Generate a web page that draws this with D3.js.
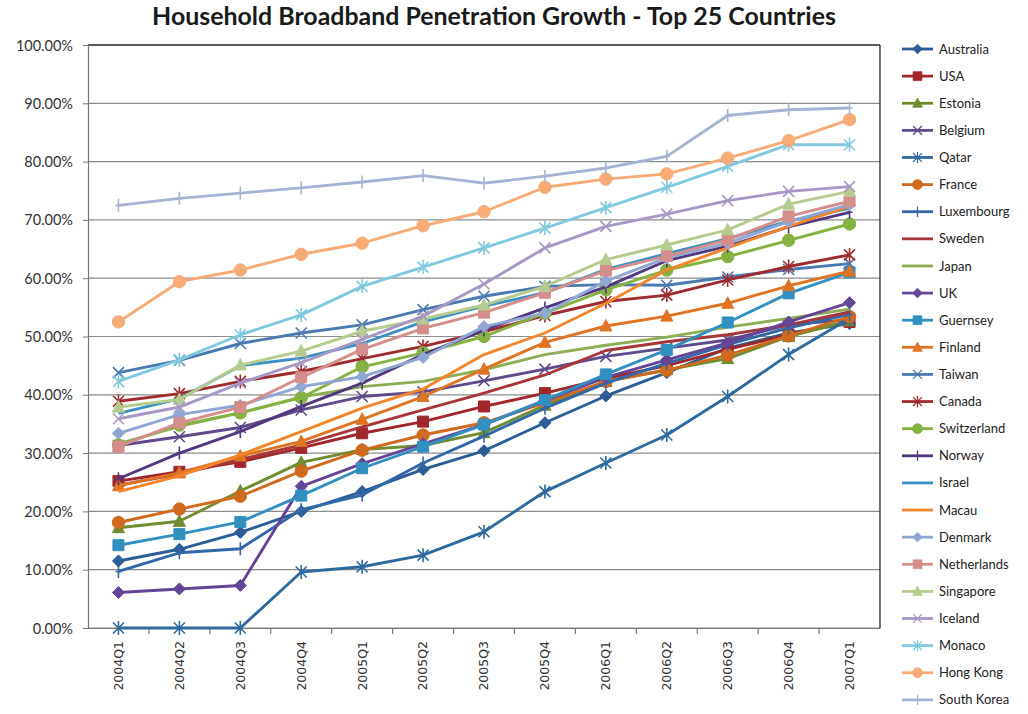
<!DOCTYPE html>
<html><head><meta charset="utf-8">
<script src="https://cdn.jsdelivr.net/npm/d3@7"></script>
<style>html,body{margin:0;padding:0;background:#fff;}svg{display:block;}</style>
</head><body><svg id="c" width="1028" height="714"></svg>
<script>
// ---- DATA ----
const quarters = ["2004Q1","2004Q2","2004Q3","2004Q4","2005Q1","2005Q2","2005Q3","2005Q4","2006Q1","2006Q2","2006Q3","2006Q4","2007Q1"];
const yTicks = [0,10,20,30,40,50,60,70,80,90,100];
const countries = ["Australia","USA","Estonia","Belgium","Qatar","France","Luxembourg","Sweden","Japan","UK","Guernsey","Finland","Taiwan","Canada","Switzerland","Norway","Israel","Macau","Denmark","Netherlands","Singapore","Iceland","Monaco","Hong Kong","South Korea"];
const australia   = [11.5,13.5,16.4,20.0,23.4,27.2,30.4,35.2,39.8,43.8,48.0,50.6,52.2];
const usa         = [25.2,26.8,28.5,30.9,33.4,35.4,38.0,40.3,42.8,45.0,47.8,50.3,52.5];
const estonia     = [17.2,18.3,23.5,28.4,30.6,31.3,33.5,38.2,42.3,44.3,46.2,50.0,52.7];
const belgium     = [31.3,32.8,34.4,37.4,39.7,40.5,42.4,44.4,46.6,48.0,49.4,52.0,52.9];
const qatar       = [0,0,0,9.6,10.5,12.5,16.5,23.4,28.3,33.1,39.7,46.9,53.1];
const france      = [18.1,20.4,22.6,26.9,30.5,33.1,35.2,38.6,42.3,44.2,46.8,50.1,53.4];
const luxembourg  = [9.7,12.9,13.6,20.3,22.8,28.3,32.9,37.7,42.0,45.4,48.6,51.5,53.8];
const sweden      = [24.5,26.4,28.9,31.4,34.5,37.4,40.3,43.4,47.6,49.1,50.3,52.0,54.2];
const japan       = [31.6,34.6,36.9,39.6,41.4,42.3,44.3,46.9,48.5,49.9,51.6,53.1,54.7];
const uk          = [6.1,6.7,7.3,24.3,28.2,31.6,34.9,39.0,43.0,46.0,48.9,52.5,55.8];
const guernsey    = [14.2,16.1,18.2,22.7,27.4,31.1,34.9,39.1,43.5,47.7,52.4,57.4,61.0];
const finland     = [24.4,26.6,29.5,32.0,35.8,39.7,44.4,49.0,51.8,53.5,55.7,58.7,61.2];
const taiwan      = [43.8,45.9,48.8,50.6,52.0,54.6,56.9,58.6,58.9,58.8,60.2,61.5,62.5];
const canada      = [38.9,40.2,42.3,44.0,46.2,48.3,50.8,53.6,56.0,57.1,59.7,62.0,64.0];
const switzerland = [31.4,34.8,36.9,39.5,44.8,47.2,50.0,54.0,58.0,61.4,63.7,66.5,69.3];
const norway      = [25.6,30.0,33.7,38.0,42.0,46.9,51.1,54.9,58.5,63.0,65.5,68.8,71.3];
const israel      = [36.8,39.3,45.0,46.3,48.8,52.5,55.2,57.5,61.5,64.2,66.8,69.8,72.0];
const macau       = [23.4,26.1,29.7,33.7,37.7,41.0,46.9,50.6,55.7,61.4,65.2,68.9,72.3];
const denmark     = [33.4,36.6,38.2,41.4,43.1,46.4,51.7,54.0,59.5,63.5,66.0,69.7,72.6];
const netherlands = [31.1,35.2,37.9,43.0,47.8,51.4,54.1,57.5,61.3,63.8,66.6,70.6,73.2];
const singapore   = [37.9,39.2,45.1,47.5,50.9,53.0,55.4,58.6,63.2,65.7,68.3,72.7,74.9];
const iceland     = [35.9,37.9,42.0,45.5,49.5,53.5,59.0,65.2,68.9,71.0,73.3,74.9,75.7];
const monaco      = [42.3,46.0,50.3,53.7,58.6,61.9,65.2,68.6,72.1,75.6,79.2,82.9,82.9];
const hongKong    = [52.5,59.4,61.4,64.1,66.0,69.0,71.4,75.6,77.0,77.9,80.6,83.6,87.2];
const southKorea  = [72.5,73.7,74.6,75.5,76.5,77.6,76.3,77.5,78.9,80.9,87.9,88.9,89.2];
const seriesValues = [australia,usa,estonia,belgium,qatar,france,luxembourg,sweden,japan,uk,guernsey,finland,taiwan,canada,switzerland,norway,israel,macau,denmark,netherlands,singapore,iceland,monaco,hongKong,southKorea];

// ---- STYLE ----
const colors = ["#2C5D96","#A0282C","#6F8D2F","#5F4A8B","#2F6A9E","#CF6A1E","#3368A8","#A6363A","#8DAE55","#644596","#3290C0","#DE7424","#4A7AB0","#9E2B30","#86B241","#52397F","#3C90C4","#F3862B","#91A7D3","#D48E8C","#B5CC8E","#A898C6","#82C8DF","#F7AB77","#A6B4D4"];
const markerCycle = ["diamond","square","triangle","x","star","circle","plus","none","none"];

const svg = d3.select("#c");
const M = {left:88, right:880, top:45, bottom:628};
const x = d3.scaleBand().domain(quarters).range([M.left, M.right]);
const y = d3.scaleLinear().domain([0,100]).range([M.bottom, M.top]);
const cx = q => x(q) + x.bandwidth()/2;

// title
const title = svg.append("text").attr("x", 494).attr("y", 25).attr("text-anchor","middle")
  .attr("font-family","Lato, 'Open Sans', sans-serif").attr("font-weight","bold").attr("font-size",22)
  .attr("fill","#1a1a1a").text("Household Broadband Penetration Growth - Top 25 Countries");
{ const w = title.node().getComputedTextLength(); title.attr("font-size", 22*684/w); }

// gridlines
svg.append("g").selectAll("line").data(yTicks.filter(d=>d<100)).join("line")
  .attr("x1",M.left).attr("x2",M.right).attr("y1",d=>y(d)).attr("y2",d=>y(d))
  .attr("stroke","#8c8c8c").attr("stroke-width",1.2);
// plot border top/right
svg.append("line").attr("x1",M.left).attr("x2",M.right).attr("y1",y(100)).attr("y2",y(100)).attr("stroke","#222").attr("stroke-width",1.3);
svg.append("line").attr("x1",M.right).attr("x2",M.right).attr("y1",y(100)).attr("y2",M.bottom).attr("stroke","#222").attr("stroke-width",1.3);

// y axis
const yAxis = svg.append("g").attr("transform",`translate(${M.left},0)`)
  .call(d3.axisLeft(y).tickValues(yTicks).tickSize(5).tickFormat(d=>d.toFixed(2)+"%"));
yAxis.select(".domain").attr("stroke","#777").attr("stroke-width",1.2);
yAxis.selectAll(".tick line").attr("stroke","#777");
yAxis.selectAll("text").attr("font-family","Lato, sans-serif").attr("font-size",14.5).attr("fill","#333").attr("x",-15).attr("dy","0.35em");

// x axis
const xAxis = svg.append("g").attr("transform",`translate(0,${M.bottom})`)
  .call(d3.axisBottom(x).tickSize(0).tickSizeOuter(0));
xAxis.select(".domain").attr("stroke","#777").attr("stroke-width",1.2);
xAxis.selectAll("text").attr("font-family","'DejaVu Sans', sans-serif").attr("font-size",12.5).attr("fill","#333")
  .attr("transform","rotate(-90)").attr("text-anchor","end").attr("x",-13).attr("y",0).attr("dy","0.35em");
// category boundary ticks
svg.append("g").selectAll("line").data(quarters.slice(1)).join("line")
  .attr("x1",d=>x(d)).attr("x2",d=>x(d)).attr("y1",M.bottom).attr("y2",M.bottom+6)
  .attr("stroke","#777").attr("stroke-width",1.2);

// markers
function markerPath(type){
  const p = d3.path();
  switch(type){
    case "diamond": p.moveTo(0,-6);p.lineTo(6,0);p.lineTo(0,6);p.lineTo(-6,0);p.closePath();break;
    case "square": p.rect(-5.5,-5.5,11,11);break;
    case "triangle": p.moveTo(0,-6.5);p.lineTo(6,5);p.lineTo(-6,5);p.closePath();break;
    case "circle": p.arc(0,0,6.2,0,2*Math.PI);break;
    case "x": p.moveTo(-5.5,-5.5);p.lineTo(5.5,5.5);p.moveTo(5.5,-5.5);p.lineTo(-5.5,5.5);break;
    case "star": p.moveTo(-5.5,-5.5);p.lineTo(5.5,5.5);p.moveTo(5.5,-5.5);p.lineTo(-5.5,5.5);p.moveTo(0,-7);p.lineTo(0,7);break;
    case "plus": p.moveTo(0,-6.5);p.lineTo(0,6.5);p.moveTo(-3,0);p.lineTo(3,0);break;
  }
  return p.toString();
}
const filled = t => ["diamond","square","triangle","circle"].includes(t);

const line = d3.line().x((d,i)=>cx(quarters[i])).y(d=>y(d));
const plot = svg.append("g");
seriesValues.forEach((vals,k)=>{
  const col = colors[k], mk = markerCycle[k%9];
  const g = plot.append("g");
  g.append("path").datum(vals).attr("d",line).attr("fill","none").attr("stroke",col)
    .attr("stroke-width",2.9).attr("stroke-linejoin","round");
  if(mk!=="none"){
    g.selectAll("path.m").data(vals).join("path").attr("class","m")
      .attr("transform",(d,i)=>`translate(${cx(quarters[i])},${y(d)})`)
      .attr("d",markerPath(mk))
      .attr("fill",filled(mk)?col:"none").attr("stroke",col).attr("stroke-width",filled(mk)?1:1.6);
  }
});

// legend
const legend = svg.append("g");
const ly0 = 49, lstep = 27.12;
countries.forEach((name,k)=>{
  const col = colors[k], mk = markerCycle[k%9];
  const gy = ly0 + k*lstep;
  const g = legend.append("g").attr("transform",`translate(0,${gy})`);
  g.append("line").attr("x1",902).attr("x2",933).attr("y1",0).attr("y2",0).attr("stroke",col).attr("stroke-width",2.8);
  if(mk!=="none") g.append("path").attr("transform","translate(917.5,0) scale(0.8)").attr("d",markerPath(mk))
     .attr("fill",filled(mk)?col:"none").attr("stroke",col).attr("stroke-width",filled(mk)?1:1.6);
  g.append("text").attr("x",939).attr("y",0).attr("dy","0.35em").attr("font-family","Lato, sans-serif")
    .attr("font-size",13).attr("fill","#222").text(name);
});
</script></body></html>
